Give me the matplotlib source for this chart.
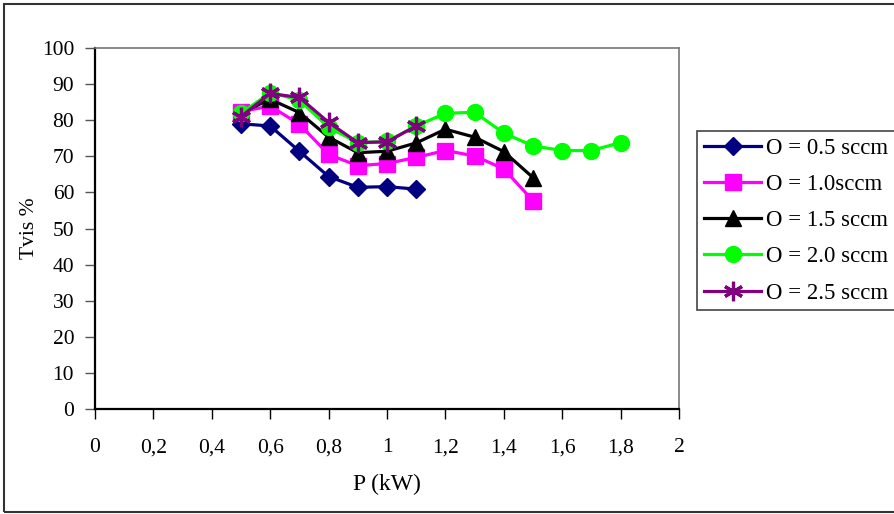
import matplotlib
matplotlib.use("Agg")
import matplotlib.pyplot as plt
from matplotlib.patches import Rectangle

plt.rcParams["font.family"] = ["Liberation Serif", "DejaVu Serif"]

# data
p_05 = [0.5, 0.6, 0.7, 0.8, 0.9, 1.0, 1.1]
t_05 = [79.0, 78.4, 71.4, 64.4, 61.4, 61.6, 60.9]

p_10 = [0.5, 0.6, 0.7, 0.8, 0.9, 1.0, 1.1, 1.2, 1.3, 1.4, 1.5]
t_10 = [82.4, 83.9, 78.9, 70.5, 67.4, 68.0, 69.7, 71.6, 70.1, 66.5, 57.7]

p_15 = [0.5, 0.6, 0.7, 0.8, 0.9, 1.0, 1.1, 1.2, 1.3, 1.4, 1.5]
t_15 = [82.0, 85.8, 82.1, 75.3, 71.0, 71.4, 73.7, 77.5, 75.3, 71.3, 64.1]

p_20 = [0.5, 0.6, 0.7, 0.8, 0.9, 1.0, 1.1, 1.2, 1.3, 1.4, 1.5, 1.6, 1.7, 1.8]
t_20 = [81.9, 87.6, 85.6, 78.0, 73.8, 74.1, 78.4, 81.9, 82.2, 76.4, 72.9, 71.6, 71.6, 73.8]

p_25 = [0.5, 0.6, 0.7, 0.8, 0.9, 1.0, 1.1]
t_25 = [81.0, 87.4, 86.3, 79.4, 73.8, 74.0, 78.4]

labels = ["O = 0.5 sccm", "O = 1.0sccm", "O = 1.5 sccm", "O = 2.0 sccm", "O = 2.5 sccm"]
x_ticks = [0, 0.2, 0.4, 0.6, 0.8, 1.0, 1.2, 1.4, 1.6, 1.8, 2.0]
x_ticklabels = ["0", "0,2", "0,4", "0,6", "0,8", "1", "1,2", "1,4", "1,6", "1,8", "2"]
y_ticks = list(range(0, 101, 10))

fig = plt.figure(figsize=(8.95, 5.14), dpi=100)
ax = fig.add_axes([95 / 895, 1 - 409 / 514, 584 / 895, 361 / 514])

ax.plot(p_05, t_05, color="#000080", lw=2.3, marker="D", ms=9.5, label=labels[0])
ax.plot(p_10, t_10, color="#FF00FF", lw=2.3, marker="s", ms=11.5, label=labels[1])
ax.plot(p_15, t_15, color="black", lw=2.3, marker="^", ms=11.5, label=labels[2])
ax.plot(p_20, t_20, color="#00FF00", lw=2.3, marker="o", ms=11.5, label=labels[3])
ax.plot(p_25, t_25, color="#800080", lw=2.3, marker=(6, 2, 0), ms=14, mew=2.3,
        label=labels[4])

ax.set_xlim(0, 2)
ax.set_ylim(0, 100)
ax.set_xticks(x_ticks)
ax.set_xticklabels(x_ticklabels)
ax.set_yticks(y_ticks)
ax.tick_params(axis="x", direction="out", length=7, width=1, pad=14, labelsize=15.5)
ax.tick_params(axis="y", direction="out", length=7, width=1, pad=8, labelsize=15.5,
               color="#555555")

for side in ["left", "bottom"]:
    ax.spines[side].set_color("black")
    ax.spines[side].set_linewidth(1.6)
for side in ["top", "right"]:
    ax.spines[side].set_color("#777777")
    ax.spines[side].set_linewidth(1.2)

ax.set_xlabel("P (kW)", fontsize=17, labelpad=12)
ax.set_ylabel("Tvis %", fontsize=15.5, labelpad=2)

leg = fig.legend(loc="upper left", bbox_to_anchor=(697 / 895, 1 - 131 / 514),
                 fontsize=16.5, frameon=True, fancybox=False, framealpha=1,
                 edgecolor="#444444", handlelength=2.5, handletextpad=0.2,
                 labelspacing=0.66, borderpad=0.3, borderaxespad=0)
leg.get_frame().set_linewidth(1.2)

fig.patches.append(Rectangle((4 / 895, 2 / 514), 1.2, 1 - 6 / 514,
                             transform=fig.transFigure, fill=False,
                             edgecolor="#333333", lw=1.5))

fig.savefig("out.png", dpi=100)
